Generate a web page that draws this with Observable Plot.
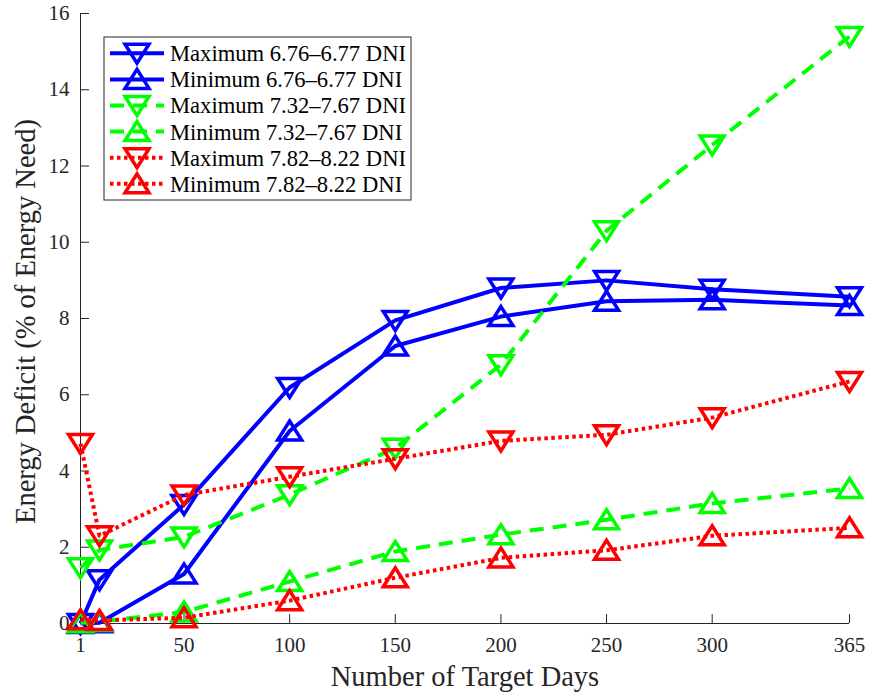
<!DOCTYPE html>
<html><head><meta charset="utf-8">
<script src="https://cdn.jsdelivr.net/npm/d3@7"></script>
<script src="https://cdn.jsdelivr.net/npm/@observablehq/plot@0.6"></script>
<style>body{margin:0;background:#fff;} #chart svg{display:block}</style>
</head><body><div id="chart"></div>
<script>
const days = [1, 10, 50, 100, 150, 200, 250, 300, 365];
const blueMax  = [0, 1.15, 3.12, 6.19, 7.95, 8.8, 9.0, 8.77, 8.57];
const blueMin  = [0, 0.02, 1.3, 5.05, 7.28, 8.05, 8.45, 8.49, 8.34];
const greenMax = [1.46, 1.93, 2.27, 3.38, 4.6, 6.79, 10.3, 12.55, 15.4];
const greenMin = [0.02, 0.05, 0.3, 1.1, 1.89, 2.33, 2.72, 3.15, 3.54];
const redMax   = [4.72, 2.3, 3.37, 3.85, 4.32, 4.79, 4.95, 5.4, 6.35];
const redMin   = [0.1, 0.08, 0.15, 0.6, 1.2, 1.72, 1.92, 2.3, 2.51];

const seriesNames = [
  "Maximum 6.76–6.77 DNI", "Minimum 6.76–6.77 DNI",
  "Maximum 7.32–7.67 DNI", "Minimum 7.32–7.67 DNI",
  "Maximum 7.82–8.22 DNI", "Minimum 7.82–8.22 DNI"
];
const seriesValues = [blueMax, blueMin, greenMax, greenMin, redMax, redMin];
const seriesColors = ["#0000ff", "#0000ff", "#00ff00", "#00ff00", "#ff0000", "#ff0000"];
const seriesDash = [null, null, "14,9", "14,9", "3.5,3.5", "3.5,3.5"];
const seriesMarker = ["down", "up", "down", "up", "down", "up"];
const xTicks = [1, 50, 100, 150, 200, 250, 300, 365];
const yTicks = [0, 2, 4, 6, 8, 10, 12, 14, 16];
const xLabel = "Number of Target Days";
const yLabel = "Energy Deficit (% of Energy Need)";

const triDown = {draw(c){ c.moveTo(-12,-9); c.lineTo(12,-9); c.lineTo(0,10); c.closePath(); }};
const triUp   = {draw(c){ c.moveTo(-12,9); c.lineTo(12,9); c.lineTo(0,-10); c.closePath(); }};
const symbols = {down: triDown, up: triUp};

const W = 871, H = 697, mL = 80, mR = 22, mT = 13, mB = 74;
const frameW = W - mL - mR, frameH = H - mT - mB;
const axisColor = "#262626";
const font = "'Liberation Serif', 'Times New Roman', serif";

const seriesMarks = [];
seriesValues.forEach((vals, i) => {
  const rows = days.map((d, j) => ({day: d, value: vals[j], series: seriesNames[i]}));
  seriesMarks.push(Plot.line(rows, {
    x: "day", y: "value", stroke: seriesColors[i], strokeWidth: 4,
    strokeDasharray: seriesDash[i] || undefined, strokeLinecap: "butt", strokeLinejoin: "round"
  }));
  seriesMarks.push(Plot.dot(rows, {
    x: "day", y: "value", symbol: symbols[seriesMarker[i]], stroke: seriesColors[i],
    strokeWidth: 3.5, fill: "none", strokeLinejoin: "miter"
  }));
});

const chart = Plot.plot({
  width: W, height: H,
  marginLeft: mL, marginRight: mR, marginTop: mT, marginBottom: mB,
  style: {fontFamily: font, background: "white", overflow: "visible"},
  x: {domain: [1, 365]},
  y: {domain: [0, 16]},
  marks: [
    Plot.ruleY([0], {stroke: axisColor, strokeWidth: 1}),
    Plot.ruleX([1], {stroke: axisColor, strokeWidth: 1}),
    Plot.tickX(xTicks, {x: d => d, stroke: axisColor, strokeWidth: 1, insetTop: frameH - 9}),
    Plot.tickY(yTicks, {y: d => d, stroke: axisColor, strokeWidth: 1, insetRight: frameW - 9}),
    Plot.axisX({ticks: xTicks, tickSize: 0, tickPadding: 14, fontSize: 21, fill: axisColor, label: null, tickFormat: d => String(d)}),
    Plot.axisY({ticks: yTicks, tickSize: 0, tickPadding: 11, fontSize: 21, fill: axisColor, label: null, tickFormat: d => String(d)}),
    Plot.text([xLabel], {text: d => d, frameAnchor: "bottom", textAnchor: "middle", dy: 53, fontSize: 28.5, lineAnchor: "middle", fill: axisColor}),
    Plot.text([yLabel], {text: d => d, frameAnchor: "left", textAnchor: "middle", rotate: -90, dx: -55, dy: 3, fontSize: 28.5, lineAnchor: "middle", fill: axisColor}),
    ...seriesMarks
  ]
});
document.getElementById("chart").appendChild(chart);

// Legend inside the plot area
const svg = d3.select(chart);
const lg = svg.append("g").attr("text-anchor", "start");
lg.append("rect").attr("x", 104).attr("y", 37).attr("width", 307).attr("height", 163)
  .attr("fill", "white").attr("stroke", axisColor).attr("stroke-width", 1);
seriesNames.forEach((name, i) => {
  const cy = 53.3 + i * 26.1;
  const ln = lg.append("line").attr("x1", 110).attr("x2", 164).attr("y1", cy).attr("y2", cy)
    .attr("stroke", seriesColors[i]).attr("stroke-width", 4).attr("stroke-linecap", "butt");
  if (seriesDash[i]) ln.attr("stroke-dasharray", seriesDash[i]);
  lg.append("path").attr("d", d3.symbol().type(symbols[seriesMarker[i]])())
    .attr("transform", `translate(137,${cy})`).attr("fill", "none")
    .attr("stroke", seriesColors[i]).attr("stroke-width", 3.5).attr("stroke-linejoin", "miter");
  lg.append("text").attr("x", 170).attr("y", cy).attr("dy", "0.35em").attr("text-anchor", "start")
    .attr("font-size", 22.6).attr("font-family", font).attr("fill", "#000").text(name);
});
</script>
</body></html>
